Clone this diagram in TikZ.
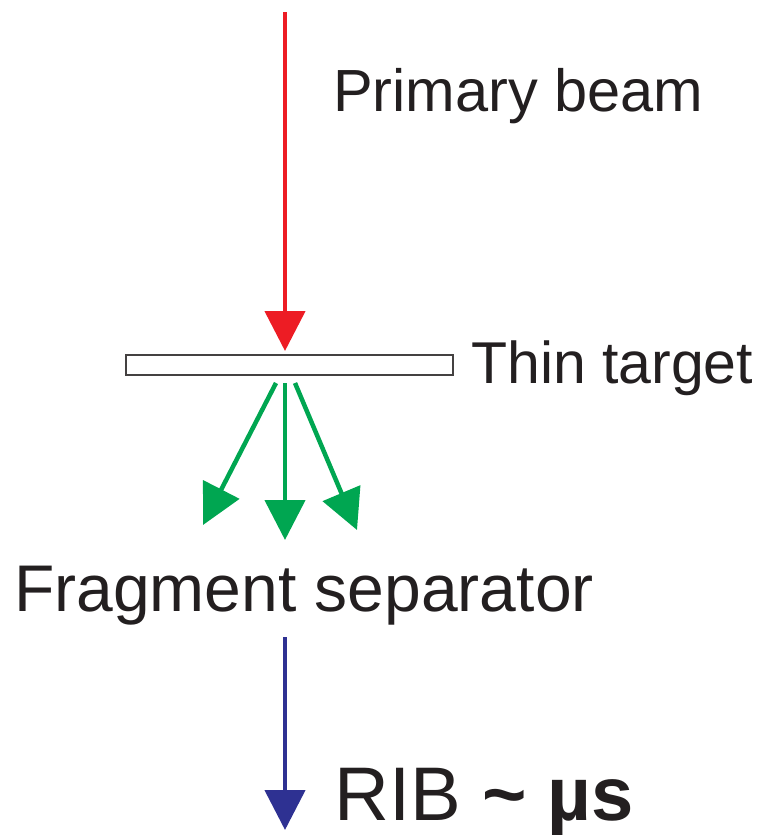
\documentclass[tikz,border=0pt]{standalone}
\usepackage{fontspec}
\setmainfont{Liberation Sans}
\usetikzlibrary{arrows.meta}
\definecolor{beamred}{HTML}{ED1C24}
\definecolor{fraggreen}{HTML}{00A651}
\definecolor{ribblue}{HTML}{2E3192}
\definecolor{ink}{HTML}{231F20}
\tikzset{
  beam/.style={line width=4.5pt, -{Triangle[width=40pt,length=40pt]}},
  lbl/.style={anchor=base west, inner sep=0pt, text=ink},
}
\begin{document}
\begin{tikzpicture}[x=1pt,y=-1pt]
\useasboundingbox (0,0) rectangle (763,835);
% target
\node[draw=ink!85, line width=1.8pt, fill=white, minimum width=327pt, minimum height=20pt, inner sep=0pt] (target) at (289.5,365) {};
% coordinates
\coordinate (redstart) at (285,12);
\coordinate (redtip) at (285,351);
\coordinate (gcs) at (285,383);
\coordinate (gls) at (276,383);
\coordinate (grs) at (295,383);
\coordinate (gct) at (285,540);
\coordinate (glt) at (203,525);
\coordinate (grt) at (357,530);
\coordinate (bstart) at (285,637);
\coordinate (btip) at (285,830);
% arrows
\draw[beam, draw=beamred, fill=beamred] (redstart) -- (redtip);
\draw[beam, draw=fraggreen, fill=fraggreen] (gcs) -- (gct);
\draw[beam, draw=fraggreen, fill=fraggreen] (gls) -- (glt);
\draw[beam, draw=fraggreen, fill=fraggreen] (grs) -- (grt);
\draw[beam, draw=ribblue, fill=ribblue] (bstart) -- (btip);
% labels
\node[lbl, font=\fontsize{59.5}{61}\selectfont] (primary) at (333,111) {Primary beam};
\node[lbl, font=\fontsize{59}{61}\selectfont] (thin) at (471,383) {Thin target};
\node[lbl, font=\fontsize{66}{68}\selectfont] (frag) at (14,611) {Fragment separator};
\node[lbl, font=\fontsize{76}{78}\selectfont] (rib) at (334,820) {RIB \textbf{\fontsize{76}{78}\selectfont \char"007E\ µs}};
\end{tikzpicture}
\end{document}
